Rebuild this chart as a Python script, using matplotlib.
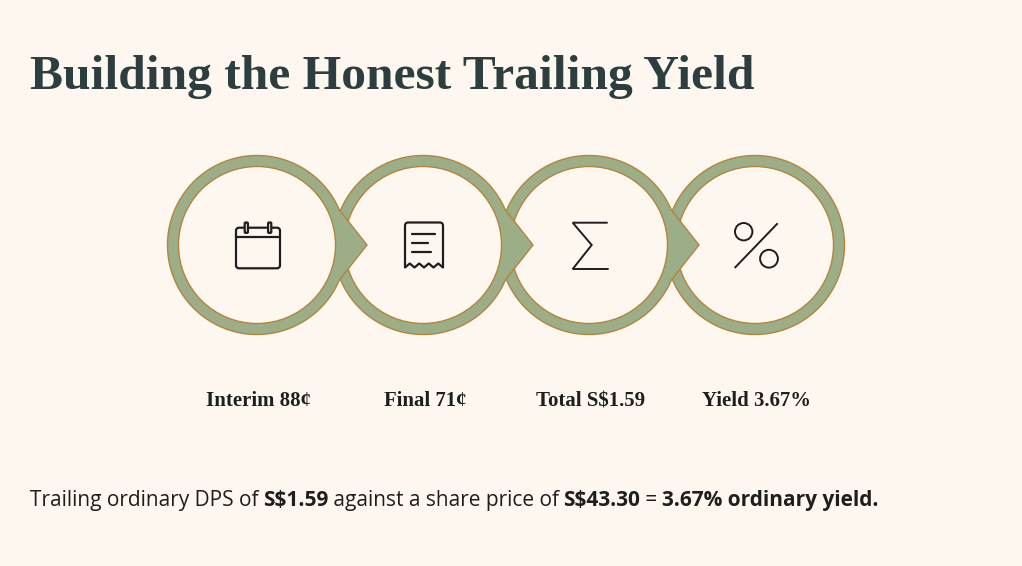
import numpy as np
import matplotlib
matplotlib.use('Agg')
from matplotlib import pyplot
from matplotlib.patches import Circle, Polygon, FancyBboxPatch

W, H = 1022, 566

BG = '#fdf7f0'
GREEN = '#9cae87'
EDGE = '#b5843c'
INK = '#1e1e1e'
TITLE_COLOR = '#2c3e40'

TITLE = 'Building the Honest Trailing Yield'
STEP_LABELS = ['Interim 88¢', 'Final 71¢', 'Total S$1.59', 'Yield 3.67%']
STEP_ICONS = ['calendar', 'receipt', 'sigma', 'percent']
FOOTER_PARTS = ['Trailing ordinary DPS of ', 'S$1.59', ' against a share price of ',
                'S$43.30', ' = ', '3.67% ordinary yield.']
FOOTER_BOLD = [False, True, False, True, False, True]

SERIF = 'Liberation Serif'
SANS = 'Open Sans'

# layout in pixels (axes = figure, y pointing down)
CX0, STEP, CY = 257, 166, 245
R_OUT, R_IN = 89.5, 78.5
TIP = 110
PHI = 23  # degrees where the arrow edges leave the outer circle


def node_outline(cx, cy, arrow):
    if not arrow:
        a = np.linspace(0, 2 * np.pi, 200)
        return np.c_[cx + R_OUT * np.cos(a), cy + R_OUT * np.sin(a)]
    a = np.radians(np.linspace(PHI, 360 - PHI, 200))
    pts = np.c_[cx + R_OUT * np.cos(a), cy + R_OUT * np.sin(a)]
    return np.vstack([[cx + TIP, cy], pts])


def draw_icon(ax, kind, cx, cy):
    lw = 1.6
    kw = dict(color=INK, lw=lw, solid_capstyle='round', solid_joinstyle='round', zorder=20)
    if kind == 'calendar':
        ax.add_patch(FancyBboxPatch((cx - 22 + 3, cy - 17.3 + 3), 44 - 6, 40.6 - 6,
                                    boxstyle='round,pad=3', fc='none', ec=INK, lw=lw, zorder=20))
        ax.plot([cx - 22, cx + 22], [cy - 7.7, cy - 7.7], **kw)
        for dx in (-11.7, 11.7):
            ax.add_patch(FancyBboxPatch((cx + dx - 0.6, cy - 21.5), 1.2, 8.4,
                                        boxstyle='round,pad=1.0', fc=BG, ec=INK, lw=lw, zorder=21))
    elif kind == 'receipt':
        # body: rounded top corners, zigzag bottom
        t = np.linspace(np.pi, 1.5 * np.pi, 10)
        left_top = np.c_[cx - 16 + 3 * np.cos(t), cy - 19.5 + 3 * np.sin(t)]
        t = np.linspace(1.5 * np.pi, 2 * np.pi, 10)
        right_top = np.c_[cx + 16 + 3 * np.cos(t), cy - 19.5 + 3 * np.sin(t)]
        zx = np.linspace(cx + 19, cx - 19, 9)
        zy = np.where(np.arange(9) % 2 == 0, cy + 22.5, cy + 18.5)
        pts = np.vstack([[[cx - 19, cy + 22.5]], left_top, right_top, np.c_[zx, zy]])
        ax.add_patch(Polygon(pts, closed=True, fc='none', ec=INK, lw=lw, joinstyle='round', zorder=20))
        for y, x1 in ((-10.7, 11), (-1.7, 4.3), (7.3, 6.7)):
            ax.plot([cx - 11.7, cx + x1], [cy + y, cy + y], **kw)
    elif kind == 'sigma':
        ax.plot([cx + 16.7, cx - 17.3, cx + 1.7, cx - 17.3, cx + 17.7],
                [cy - 22.3, cy - 22.3, cy, cy + 24, cy + 24],
                color=INK, lw=1.4, solid_joinstyle='miter', zorder=20)
    elif kind == 'percent':
        ax.add_patch(Circle((cx - 12.3, cy - 13.3), 8.7, fc='none', ec=INK, lw=1.4, zorder=20))
        ax.add_patch(Circle((cx + 13, cy + 13.7), 8.9, fc='none', ec=INK, lw=1.4, zorder=20))
        ax.plot([cx - 20.7, cx + 21], [cy + 22.3, cy - 21], color=INK, lw=1.4, zorder=20)


def fit_width(fig, t, width):
    r = fig.canvas.get_renderer()
    w = t.get_window_extent(r).width
    t.set_fontsize(t.get_fontsize() * width / w)
    return t


def main():
    fig = pyplot.figure(figsize=(W / 100, H / 100), dpi=100, facecolor=BG)
    ax = fig.add_axes([0, 0, 1, 1])
    ax.set_xlim(0, W)
    ax.set_ylim(H, 0)
    ax.set_facecolor(BG)
    ax.axis('off')

    t = ax.text(30, 89, TITLE, family=SERIF, weight='bold', color=TITLE_COLOR,
                fontsize=30, va='baseline', ha='left')
    fit_width(fig, t, 722)

    n = len(STEP_LABELS)
    centers = [CX0 + i * STEP for i in range(n)]
    # draw right to left so every arrow lies over the next circle
    for i in reversed(range(n)):
        cx = centers[i]
        z = 2 * (n - i)
        ax.add_patch(Polygon(node_outline(cx, CY, i < n - 1), closed=True,
                             fc=GREEN, ec=EDGE, lw=1.0, zorder=z))
        ax.add_patch(Circle((cx, CY), R_IN, fc=BG, ec=EDGE, lw=1.0, zorder=z + 1))
        draw_icon(ax, STEP_ICONS[i], cx + 1, CY)

    # one common size for the step labels, set from the first label's width
    labels = []
    for i, lab in enumerate(STEP_LABELS):
        labels.append(ax.text(centers[i] + 2, 406, lab, family=SERIF, weight='bold', color=INK,
                              fontsize=13, ha='center', va='baseline', zorder=30))
    fit_width(fig, labels[0], 104)
    for t in labels[1:]:
        t.set_fontsize(labels[0].get_fontsize())

    # footer: run of normal / bold pieces, scaled to the reference width
    r = fig.canvas.get_renderer()
    size = 13
    widths = []
    for part, bold in zip(FOOTER_PARTS, FOOTER_BOLD):
        tt = ax.text(0, 0, part.replace(' ', '\u00a0'), family=SANS,
                     weight='bold' if bold else 'normal', fontsize=size)
        widths.append(tt.get_window_extent(r).width)
        tt.remove()
    scale = 848 / sum(widths)
    x = 30
    for part, bold, w in zip(FOOTER_PARTS, FOOTER_BOLD, widths):
        ax.text(x, 506, part.replace(' ', '\u00a0'), family=SANS,
                weight='bold' if bold else 'normal', fontsize=size * scale,
                color=INK, ha='left', va='baseline')
        x += w * scale

    fig.savefig('out.png', dpi=100, facecolor=BG)


if __name__ == '__main__':
    main()
